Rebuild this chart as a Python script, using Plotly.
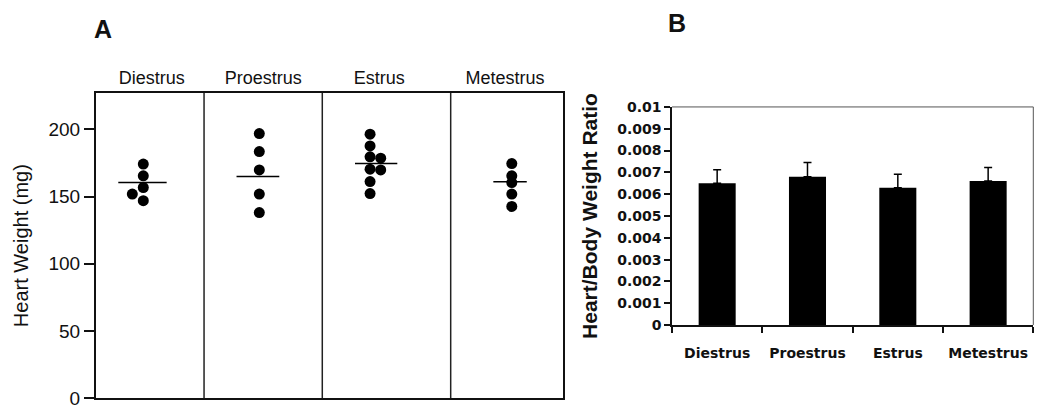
import plotly.graph_objects as go

# ---------------- data ----------------
categories = ["Diestrus", "Proestrus", "Estrus", "Metestrus"]

# Panel A: individual heart weights (mg)
hw_diestrus = [174.1, 165.4, 156.7, 146.9, 151.8]
hw_proestrus = [196.8, 183.4, 169.8, 151.8, 138.1]
hw_estrus = [196.3, 187.6, 179.5, 170.3, 161.1, 152.2, 178.5, 169.8]
hw_metestrus = [174.5, 165.4, 160.4, 151.8, 142.6]
hw_means = [160.4, 164.9, 174.5, 160.9]

# Panel B: heart/body weight ratio (mean, upper error)
ratio_mean = [0.0065, 0.0068, 0.0063, 0.0066]
ratio_err = [0.00062, 0.00065, 0.00062, 0.00062]

# ---------------- layout helpers (positions in panel-A axis units) ----------------
groups = [hw_diestrus, hw_proestrus, hw_estrus, hw_metestrus]
col_x = [0.405, 1.398, 2.346, 3.559]
x_jitter = [
    [0, 0, 0, 0, -0.094],
    [0, 0, 0, 0, 0],
    [0, 0, 0, 0, 0, 0, 0.091, 0.091],
    [0, 0, 0, 0, 0],
]
mean_center = [0.398, 1.386, 2.398, 3.544]
mean_half = [0.207, 0.183, 0.181, 0.143]
label_x = [0.477, 1.432, 2.425, 3.501]
dividers = [0.925, 1.937, 3.036]

fig = go.Figure()

# Panel A dots
for vals, cx, jit in zip(groups, col_x, x_jitter):
    fig.add_trace(go.Scatter(
        x=[cx + j for j in jit], y=vals, mode="markers",
        marker=dict(color="black", size=11),
        xaxis="x", yaxis="y", showlegend=False, hoverinfo="y"))

# Panel A mean lines
for m, c, h in zip(hw_means, mean_center, mean_half):
    fig.add_trace(go.Scatter(
        x=[c - h, c + h], y=[m, m], mode="lines",
        line=dict(color="black", width=1.5),
        xaxis="x", yaxis="y", showlegend=False, hoverinfo="skip"))

# Panel B bars
fig.add_trace(go.Bar(
    x=categories, y=ratio_mean, width=0.41,
    marker=dict(color="black", line=dict(width=0)),
    error_y=dict(type="data", symmetric=False, array=ratio_err,
                 arrayminus=[0] * len(ratio_err),
                 color="black", thickness=1.5, width=4),
    xaxis="x2", yaxis="y2", showlegend=False))

arial = "Liberation Sans, Arial, sans-serif"
bold = "DejaVu Sans, Verdana, sans-serif"

shapes = []
for d in dividers:
    shapes.append(dict(type="line", xref="x", yref="y domain", x0=d, x1=d, y0=0, y1=1,
                       line=dict(color="#222", width=1.5)))
# Panel B top and right frame (grey)
shapes.append(dict(type="line", xref="x2 domain", yref="y2 domain", x0=0, x1=1, y0=1, y1=1,
                   line=dict(color="#555", width=1)))
shapes.append(dict(type="line", xref="x2 domain", yref="y2 domain", x0=1, x1=1, y0=0, y1=1,
                   line=dict(color="#555", width=1)))

fig.update_layout(
    autosize=True,
    margin=dict(l=0, r=0, t=0, b=0),
    paper_bgcolor="white", plot_bgcolor="white",
    showlegend=False,
    xaxis=dict(domain=[0.0914, 0.5365], range=[0, 4], side="top",
               tickvals=label_x, ticktext=categories, ticks="",
               tickfont=dict(family=arial, size=18, color="#111"),
               showline=True, mirror=True, linecolor="#111", linewidth=2,
               showgrid=False, zeroline=False, anchor="y", ticklabelstandoff=0),
    yaxis=dict(domain=[0.0118, 0.7850], range=[0, 227], tickvals=[0, 50, 100, 150, 200],
               ticks="outside", ticklen=10, tickwidth=1.5, tickcolor="#111",
               tickfont=dict(family=arial, size=19, color="#111"),
               showline=True, mirror=True, linecolor="#111", linewidth=2,
               showgrid=False, zeroline=False, anchor="x",
               title=dict(text="Heart Weight (mg)", standoff=14,
                          font=dict(family=arial, size=20, color="#111"))),
    xaxis2=dict(domain=[0.64, 0.9841], range=[-0.5, 3.5], type="category",
                tickson="boundaries", ticks="outside", ticklen=6, tickwidth=1.5,
                tickcolor="#111", tickangle=0,
                tickfont=dict(family=bold, size=14, color="#111", weight="bold"),
                showline=True, linecolor="#111", linewidth=1.5,
                showgrid=False, zeroline=False, anchor="y2", ticklabelstandoff=14),
    yaxis2=dict(domain=[0.1973, 0.7495], range=[0, 0.01], dtick=0.001,
                ticks="outside", ticklen=6, tickwidth=1.5, tickcolor="#111",
                tickfont=dict(family=bold, size=14, color="#111", weight="bold"),
                showline=True, linecolor="#111", linewidth=1.5,
                showgrid=False, zeroline=False, anchor="x2",
                title=dict(text="Heart/Body Weight Ratio", standoff=14,
                           font=dict(family=arial, size=21, color="#111", weight="bold"))),
    shapes=shapes,
    annotations=[
        dict(text="A", xref="paper", yref="paper", x=103 / 1050, y=0.9457,
             xanchor="center", yanchor="middle", showarrow=False,
             font=dict(family=arial, size=25, color="#111", weight="bold")),
        dict(text="B", xref="paper", yref="paper", x=677 / 1050, y=0.9620,
             xanchor="center", yanchor="middle", showarrow=False,
             font=dict(family=arial, size=25, color="#111", weight="bold")),
    ],
)

post = (
    "document.documentElement.style.height='100%';"
    "document.documentElement.style.margin='0';"
    "document.body.style.height='100%';"
    "document.body.style.margin='0';"
    "document.body.style.overflow='hidden';"
    "var gd=document.getElementById('{plot_id}');"
    "gd.style.width='100vw';gd.style.height='100vh';"
    "if(gd.parentNode){gd.parentNode.style.height='100vh';gd.parentNode.style.width='100vw';}"
    "Plotly.Plots.resize(gd);"
)

fig.write_html("out.html", default_width="100%", default_height="100%",
               config={"displayModeBar": False, "responsive": True},
               post_script=post)
